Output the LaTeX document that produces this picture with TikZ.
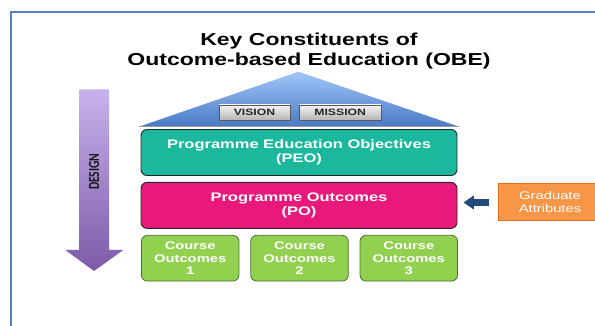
\documentclass[tikz,border=0pt]{standalone}
\usepackage{fontspec}
\setmainfont[FakeStretch=1.33]{Liberation Sans}
\newfontfamily\designfont{Carlito}
\usetikzlibrary{positioning,arrows.meta}
\definecolor{framecol}{RGB}{84,130,196}
\definecolor{roofhi}{RGB}{160,198,248}
\definecolor{rooflo}{RGB}{74,122,198}
\definecolor{peocol}{RGB}{27,184,158}
\definecolor{pocol}{RGB}{232,25,122}
\definecolor{cocol}{RGB}{146,208,80}
\definecolor{coedge}{RGB}{80,110,45}
\definecolor{gacol}{RGB}{247,150,70}
\definecolor{gaedge}{RGB}{228,110,30}
\definecolor{designhi}{RGB}{200,178,236}
\definecolor{designlo}{RGB}{124,90,168}
\definecolor{gaarrow}{RGB}{34,74,124}
\begin{document}
\begin{tikzpicture}[
	x=1pt, y=1pt,
	title/.style={align=center,font={\fontsize{17.3}{20.3}\selectfont\bfseries}},
	vm/.style={draw=black!65,top color=black!4,bottom color=black!30,minimum width=71pt,minimum height=15.7pt,inner sep=0pt,font={\fontsize{9.2}{10}\selectfont\bfseries},text=black!85},
	layer/.style={draw=black!85,rounded corners=6pt,minimum width=316pt,minimum height=46pt,line width=0.9pt,text=white,align=center,font={\fontsize{12.4}{14.3}\selectfont\bfseries}},
	co/.style={draw=coedge,fill=cocol,rounded corners=6pt,minimum width=97.5pt,minimum height=45.7pt,line width=0.8pt,text=white,align=center,font={\fontsize{11.1}{12.7}\selectfont\bfseries}},
	ga/.style={draw=gaedge,fill=gacol,minimum width=103pt,minimum height=37pt,line width=1pt,text=white,align=center,font={\fontsize{11.1}{13}\selectfont}},
	]
\useasboundingbox (0,0) rectangle (595,-326);
\draw[framecol,line width=1.5pt] (600,-12) -- (11,-12) -- (11,-330);
\node [title] (title) at (309,-50.9) {Key Constituents of\\Outcome-based Education (OBE)};
% roof
\shade[top color=roofhi,bottom color=rooflo] (139,-126.7) -- (298.5,-71.7) -- (459,-126.7) -- cycle;
\draw[black!40,line width=1.2pt] (139,-126.7) -- (459,-126.7);
\node [vm] (vision) at (254.5,-112.7) {VISION};
\node [vm,minimum width=81.7pt] (mission) at (340.2,-112.7) {MISSION};
% layers
\node [layer,fill=peocol] (peo) at (299,-152.5) {Programme Education Objectives\\(PEO)};
\node [layer,fill=pocol,below=6pt of peo] (po) {Programme Outcomes\\(PO)};
\node [co] (co1) at (190.2,-258.2) {Course\\Outcomes\\1};
\node [co,right=11pt of co1] (co2) {Course\\Outcomes\\2};
\node [co,right=11pt of co2] (co3) {Course\\Outcomes\\3};
% design arrow
\shade[top color=designhi,bottom color=designlo] (79,-89.3) -- (109,-89.3) -- (109,-250) -- (123.3,-250) -- (94,-271) -- (65.3,-250) -- (79,-250) -- cycle;
\node [rotate=90,text=black!90] (design) at (94,-171.7) {\designfont\bfseries\fontsize{11.6}{12}\selectfont\scalebox{1}[1.33]{DESIGN}};
% graduate attributes
\node [ga] (ga) at (550,-202.5) {Graduate\\Attributes};
\draw[gaarrow,line width=6.7pt,-{Triangle[length=10.5pt,width=13.4pt]},shorten <=9pt,shorten >=6pt] (ga.west) -- (ga.west -| po.east);
\end{tikzpicture}
\end{document}
